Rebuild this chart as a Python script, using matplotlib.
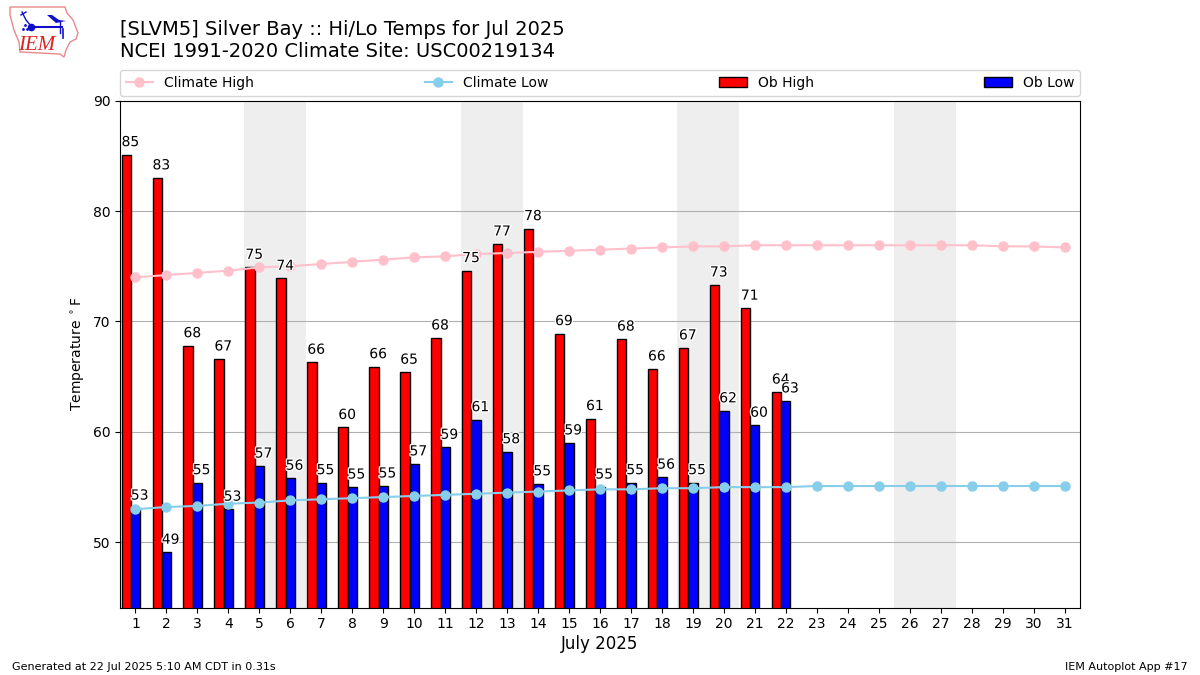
"""IEM autoplot 17 style chart: daily hi/lo temps against climatology."""

import matplotlib

matplotlib.use("Agg")
import matplotlib.patheffects as pe
import matplotlib.pyplot as plt
from matplotlib.patches import Polygon

days = list(range(1, 32))
ob_high = [85.1, 83.0, 67.8, 66.6, 74.9, 73.9, 66.3, 60.4, 65.9, 65.4, 68.5,
           74.6, 77.0, 78.4, 68.9, 61.2, 68.4, 65.7, 67.6, 73.3, 71.2, 63.6]
ob_low = [53.1, 49.1, 55.4, 53.0, 56.9, 55.8, 55.4, 55.0, 55.1, 57.1, 58.6,
          61.1, 58.2, 55.3, 59.0, 55.0, 55.4, 55.9, 55.4, 61.9, 60.6, 62.8]
high_labels = [85, 83, 68, 67, 75, 74, 66, 60, 66, 65, 68,
               75, 77, 78, 69, 61, 68, 66, 67, 73, 71, 64]
low_labels = [53, 49, 55, 53, 57, 56, 55, 55, 55, 57, 59,
              61, 58, 55, 59, 55, 55, 56, 55, 62, 60, 63]
climate_high = [74.0, 74.2, 74.4, 74.6, 74.9, 75.0, 75.2, 75.4, 75.6, 75.8, 75.9,
                76.1, 76.2, 76.3, 76.4, 76.5, 76.6, 76.7, 76.8, 76.8, 76.9, 76.9,
                76.9, 76.9, 76.9, 76.9, 76.9, 76.9, 76.8, 76.8, 76.7]
climate_low = [53.0, 53.2, 53.3, 53.5, 53.6, 53.8, 53.9, 54.0, 54.1, 54.2, 54.3,
               54.4, 54.5, 54.6, 54.7, 54.8, 54.8, 54.9, 54.9, 55.0, 55.0, 55.0,
               55.1, 55.1, 55.1, 55.1, 55.1, 55.1, 55.1, 55.1, 55.1]
weekends = [(5, 6), (12, 13), (19, 20), (26, 27)]

BAR_WIDTH = 0.3

fig = plt.figure(figsize=(12, 6.75), dpi=100)
ax = fig.add_axes([0.1, 0.1, 0.8, 0.751])

for first, last in weekends:
    ax.axvspan(first - 0.5, last + 0.5, color="#eeeeee", lw=0, zorder=0)

ax.grid(axis="y", color="#b0b0b0", lw=0.8, zorder=1)
ax.set_axisbelow(True)

hi_x = [d - 0.45 for d in days[: len(ob_high)]]
lo_x = [d - 0.15 for d in days[: len(ob_low)]]
ax.bar(hi_x, ob_high, width=BAR_WIDTH, align="edge", color="red", edgecolor="k",
       label="Ob High", zorder=2)
ax.bar(lo_x, ob_low, width=BAR_WIDTH, align="edge", color="blue", edgecolor="k",
       label="Ob Low", zorder=2)
ax.plot(days, climate_high, color="pink", marker="o", ms=6.5, lw=1.5,
        label="Climate High", zorder=3)
ax.plot(days, climate_low, color="skyblue", marker="o", ms=6.5, lw=1.5,
        label="Climate Low", zorder=3)

halo = [pe.withStroke(linewidth=2, foreground="white")]
for xs, tops, labels in ((hi_x, ob_high, high_labels), (lo_x, ob_low, low_labels)):
    for x, top, label in zip(xs, tops, labels):
        ax.annotate(str(label), (x, top), xytext=(0, 4), textcoords="offset points",
                    ha="left", va="bottom", fontsize=10, zorder=4, path_effects=halo)

ax.set_xlim(0.5, 31.5)
ax.set_ylim(44.1, 90)
ax.set_xticks(days)
ax.set_yticks([50, 60, 70, 80, 90])
ax.set_ylabel(r"Temperature $^\circ$F")
ax.set_xlabel("July 2025", fontsize=12, labelpad=3)

handles, names = ax.get_legend_handles_labels()
order = [names.index(n) for n in ("Climate High", "Climate Low", "Ob High", "Ob Low")]
ax.legend([handles[i] for i in order], [names[i] for i in order],
          loc="lower left", bbox_to_anchor=(0, 1.01, 1, 0.05), mode="expand", ncol=4,
          borderaxespad=0, fontsize=10)

fig.text(0.1, 0.9095, "[SLVM5] Silver Bay :: Hi/Lo Temps for Jul 2025\n"
         "NCEI 1991-2020 Climate Site: USC00219134", fontsize=14, va="bottom",
         linespacing=1.2)
fig.text(0.01, 0.008, "Generated at 22 Jul 2025 5:10 AM CDT in 0.31s", fontsize=8)
fig.text(0.99, 0.008, "IEM Autoplot App #17", fontsize=8, ha="right")

# rough redraw of the IEM logo, in pixel coords
logo = fig.add_axes([0, 1 - 60 / 675, 90 / 1200, 60 / 675])
logo.set_xlim(0, 90)
logo.set_ylim(60, 0)
logo.axis("off")
logo.add_patch(Polygon([(10, 7), (65, 7), (67, 13), (73, 20), (78, 33), (76, 39), (70, 42),
                        (66, 50), (64, 57), (60, 54), (20, 52), (19, 42), (14, 30), (10, 15)],
                       fill=False, edgecolor="#e88a8a", lw=1))
logo.plot([31, 62], [26.5, 26.5], color="#1010cc", lw=1.5)
logo.plot([31], [26.5], "o", color="#1010cc", ms=4.5)
logo.add_patch(Polygon([(47, 15), (52, 15), (59, 20), (66, 21), (56, 23)], color="#1010cc", lw=0))
logo.plot([60, 60], [22, 33], color="#1010cc", lw=1)
logo.plot([63, 63], [29, 38], color="#1010cc", lw=1.2)
logo.plot([22, 26, 31], [12, 20, 26], color="#1010cc", lw=1)
logo.plot([21, 26], [15, 12], color="#1010cc", lw=1)
logo.plot([23, 25, 27], [29, 25, 29], ".", color="#1010cc", ms=2)
logo.text(37, 46, "IEM", color="#d22", fontsize=15, family="Liberation Serif",
          style="italic", ha="center", va="center")

fig.savefig("out.png", dpi=100)
